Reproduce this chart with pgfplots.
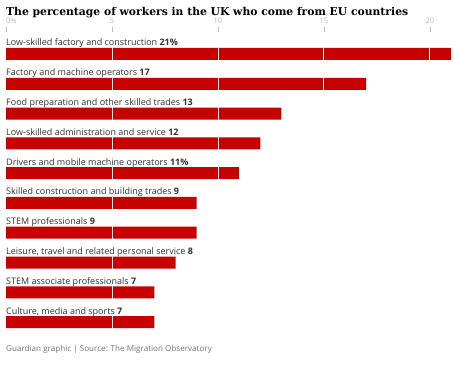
\documentclass[border=0pt]{standalone}
\usepackage{pgfplots}
\pgfplotsset{compat=1.18}
\usepackage{fontspec}
\setmainfont{Open Sans}
\newfontfamily\titlefont{DejaVu Serif}
\definecolor{gred}{HTML}{C70000}
\definecolor{lab}{HTML}{333333}
\definecolor{tickc}{HTML}{BBBBBB}
\definecolor{foot}{HTML}{767676}
\begin{document}
\begin{tikzpicture}
\useasboundingbox (0,0) rectangle (455pt,-374pt);
\fill[white] (0,0) rectangle (455pt,-374pt);
\node[anchor=west,inner sep=0] at (6pt,-12.5pt) {\resizebox{402pt}{!}{\titlefont\bfseries The percentage of workers in the UK who come from EU countries}};
\begin{axis}[
  at={(6pt,-32pt)}, anchor=north west,
  scale only axis, width=445pt, height=305pt,
  xmin=0, xmax=21, ymin=-0.738, ymax=9.5,
  y dir=reverse,
  xbar, bar width=12pt,
  axis x line*=top, axis y line=none,
  x axis line style={draw=none},
  ytick=\empty,
  xtick={0,5,10,15,20},
  xticklabels={\makebox[0pt][l]{0\%},5,10,15,20},
  tick align=outside, major tick length=5pt,
  tick style={draw=tickc, line width=0.6pt},
  xticklabel style={font=\fontsize{7.5}{8}\selectfont, text=tickc},
  clip=false,
]
\addplot[fill=gred, draw=none] coordinates {(21,0) (17,1) (13,2) (12,3) (11,4) (9,5) (9,6) (8,7) (7,8) (7,9)};
\begin{scope}[white, line width=0.8pt]
\draw (axis cs:5,-0.21) -- (axis cs:5,0.21);
\draw (axis cs:10,-0.21) -- (axis cs:10,0.21);
\draw (axis cs:15,-0.21) -- (axis cs:15,0.21);
\draw (axis cs:20,-0.21) -- (axis cs:20,0.21);
\draw (axis cs:5,0.79) -- (axis cs:5,1.21);
\draw (axis cs:10,0.79) -- (axis cs:10,1.21);
\draw (axis cs:15,0.79) -- (axis cs:15,1.21);
\draw (axis cs:5,1.79) -- (axis cs:5,2.21);
\draw (axis cs:10,1.79) -- (axis cs:10,2.21);
\draw (axis cs:5,2.79) -- (axis cs:5,3.21);
\draw (axis cs:10,2.79) -- (axis cs:10,3.21);
\draw (axis cs:5,3.79) -- (axis cs:5,4.21);
\draw (axis cs:10,3.79) -- (axis cs:10,4.21);
\draw (axis cs:5,4.79) -- (axis cs:5,5.21);
\draw (axis cs:5,5.79) -- (axis cs:5,6.21);
\draw (axis cs:5,6.79) -- (axis cs:5,7.21);
\draw (axis cs:5,7.79) -- (axis cs:5,8.21);
\draw (axis cs:5,8.79) -- (axis cs:5,9.21);
\end{scope}
\begin{scope}[every node/.style={anchor=base west, inner sep=0, yshift=8pt, text=lab, font=\fontsize{9}{10}\selectfont}]
\node at (axis cs:0,0) {Low-skilled factory and construction \textbf{21\%}};
\node at (axis cs:0,1) {Factory and machine operators \textbf{17}};
\node at (axis cs:0,2) {Food preparation and other skilled trades \textbf{13}};
\node at (axis cs:0,3) {Low-skilled administration and service \textbf{12}};
\node at (axis cs:0,4) {Drivers and mobile machine operators \textbf{11\%}};
\node at (axis cs:0,5) {Skilled construction and building trades \textbf{9}};
\node at (axis cs:0,6) {STEM professionals \textbf{9}};
\node at (axis cs:0,7) {Leisure, travel and related personal service \textbf{8}};
\node at (axis cs:0,8) {STEM associate professionals \textbf{7}};
\node at (axis cs:0,9) {Culture, media and sports \textbf{7}};
\end{scope}
\end{axis}
\node[anchor=west,inner sep=0,text=foot,font=\fontsize{8.1}{9}\selectfont] at (6pt,-349pt) {Guardian graphic | Source: The Migration Observatory};
\end{tikzpicture}
\end{document}
